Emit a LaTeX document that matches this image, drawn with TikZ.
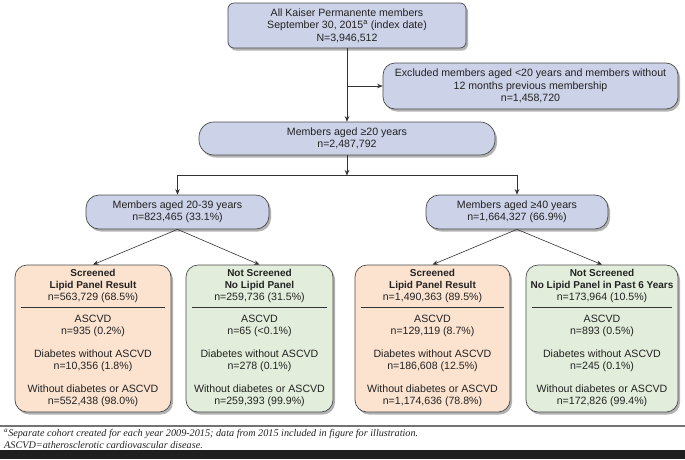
\documentclass[tikz,border=0pt]{standalone}
\usepackage{fontspec}
\setmainfont{Liberation Sans}
\newfontfamily\notefont{Liberation Serif}
\usetikzlibrary{shadows,arrows.meta}
\definecolor{boxblue}{HTML}{CCD2E8}
\definecolor{boxpeach}{HTML}{FCE3D0}
\definecolor{boxgreen}{HTML}{E2EEDB}
\definecolor{edgegray}{HTML}{4A4A4A}
\definecolor{linegray}{HTML}{333333}
\definecolor{textgray}{HTML}{222222}
\newcommand{\hd}[1]{{\fontsize{10}{12.3}\selectfont\bfseries #1}}
\tikzset{
  basebox/.style={draw=edgegray, line width=0.7pt, inner sep=0pt,
    drop shadow={shadow xshift=2pt, shadow yshift=-2.5pt, opacity=0.3, fill=black},
    align=center, text=textgray, font=\fontsize{10.6}{12.4}\selectfont},
  bluebox/.style={basebox, fill=boxblue},
  peachbox/.style={basebox, fill=boxpeach, rounded corners=12pt},
  greenbox/.style={basebox, fill=boxgreen, rounded corners=12pt},
  txt/.style={align=center, inner sep=0pt, text=textgray, font=\fontsize{10.6}{12.4}\selectfont},
  conn/.style={draw=linegray, line width=0.6pt},
  arr/.style={conn, -{Stealth[length=5.5pt,width=4.5pt]}},
  sepline/.style={draw=linegray, line width=0.6pt, shorten <=6pt, shorten >=6pt},
  note/.style={inner sep=0pt, anchor=west, text=textgray, font=\notefont\itshape\fontsize{10.2}{11}\selectfont},
}
\newcommand{\cohortbox}[8]{%
  \node[#4, minimum width=#3pt, minimum height=147pt] (#1) at (#2,338.5) {};
  \node[txt] (#1h) at (#2,286) {#5};
  \draw[sepline] (#1.west |- 0,307) -- (#1.east |- 0,307);
  \node[txt] (#1a) at (#2,326) {ASCVD\\#6};
  \node[txt] (#1d) at (#2,360.5) {Diabetes without ASCVD\\#7};
  \node[txt] (#1w) at (#2,396) {Without diabetes or ASCVD\\#8};
}
\begin{document}
\begin{tikzpicture}[x=1pt,y=-1pt]
\useasboundingbox (0,0) rectangle (685,459);

% top level boxes
\node[bluebox, rounded corners=6pt, minimum width=238pt, minimum height=45pt] (top) at (347,25.5)
  {All Kaiser Permanente members\\September 30, 2015\textsuperscript{a} (index date)\\N=3,946,512};
\node[bluebox, rounded corners=12pt, minimum width=295pt, minimum height=46pt] (excl) at (530.5,86)
  {Excluded members aged <20 years and members without\\12 months previous membership\\n=1,458,720};
\node[bluebox, rounded corners=15pt, minimum width=296pt, minimum height=33pt] (mid) at (347,138.5)
  {Members aged ≥20 years\\n=2,487,792};
\node[bluebox, rounded corners=13pt, minimum width=183pt, minimum height=34pt] (age1) at (177.5,212)
  {Members aged 20-39 years\\n=823,465 (33.1\%)};
\node[bluebox, rounded corners=13pt, minimum width=182pt, minimum height=34pt] (age2) at (517,212)
  {Members aged ≥40 years\\n=1,664,327 (66.9\%)};

% bottom cohort boxes
\cohortbox{b1}{93}{156}{peachbox}{\hd{Screened}\\\hd{Lipid Panel Result}\\n=563,729 (68.5\%)}{n=935 (0.2\%)}{n=10,356 (1.8\%)}{n=552,438 (98.0\%)}
\cohortbox{b2}{259.5}{147}{greenbox}{\hd{Not Screened}\\\hd{No Lipid Panel}\\n=259,736 (31.5\%)}{n=65 (<0.1\%)}{n=278 (0.1\%)}{n=259,393 (99.9\%)}
\cohortbox{b3}{432.5}{155}{peachbox}{\hd{Screened}\\\hd{Lipid Panel Result}\\n=1,490,363 (89.5\%)}{n=129,119 (8.7\%)}{n=186,608 (12.5\%)}{n=1,174,636 (78.8\%)}
\cohortbox{b4}{602}{152}{greenbox}{\hd{Not Screened}\\\hd{No Lipid Panel in Past 6 Years}\\n=173,964 (10.5\%)}{n=893 (0.5\%)}{n=245 (0.1\%)}{n=172,826 (99.4\%)}

% connectors
\draw[arr] (top.south) -- (mid.north);
\draw[arr] (top.south |- excl.west) -- (excl.west);
\coordinate (split) at (347,175.5);
\draw[arr] (mid.south) -- (split);
\draw[arr] (split) -| (age1.north);
\draw[arr] (split) -| (age2.north);
\draw[arr] (age1.south) -- (b1.north);
\draw[arr] (age1.south) -- (b2.north);
\draw[arr] (age2.south) -- (b3.north);
\draw[arr] (age2.south) -- (b4.north);

% footnote
\fill[black!55] (0,424.8) rectangle (685,426.8);
\node[note] (fn1) at (4,434) {\textsuperscript{a}Separate cohort created for each year 2009-2015; data from 2015 included in figure for illustration.};
\node[note] (fn2) at (4,445) {ASCVD=atherosclerotic cardiovascular disease.};
\fill[black!88] (0,450) rectangle (685,459);
\end{tikzpicture}
\end{document}
